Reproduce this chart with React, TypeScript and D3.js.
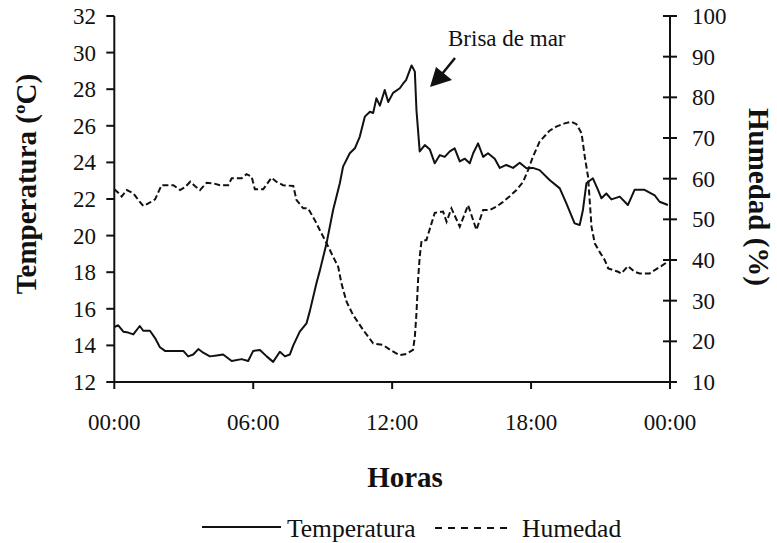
import React from 'react'
import { scaleLinear, line, curveLinear } from 'd3'

// temperature (ºC), hour of day
const tempHours = [0, 0.17, 0.39, 0.6, 0.82, 1.1, 1.25, 1.54, 1.76, 1.97, 2.19, 2.98, 3.19, 3.41, 3.63, 3.84, 4.13, 4.42, 4.7, 5.07, 5.5, 5.78, 6.0, 6.29, 6.58, 6.86, 7.15, 7.37, 7.58, 7.73, 8.01, 8.3, 8.45, 8.73, 8.88, 9.17, 9.45, 9.74, 9.88, 10.17, 10.39, 10.6, 10.82, 11.04, 11.18, 11.32, 11.47, 11.68, 11.83, 12.04, 12.33, 12.47, 12.6, 12.84, 12.98, 13.05, 13.19, 13.41, 13.63, 13.84, 14.06, 14.27, 14.49, 14.7, 14.92, 15.14, 15.35, 15.5, 15.71, 15.93, 16.14, 16.43, 16.65, 16.93, 17.22, 17.51, 17.8, 18.08, 18.37, 18.8, 19.24, 19.52, 19.88, 20.1, 20.24, 20.39, 20.67, 20.89, 21.04, 21.25, 21.47, 21.83, 22.18, 22.47, 22.9, 23.34, 23.55, 23.91]
const tempValues = [15.0, 15.1, 14.75, 14.7, 14.6, 15.06, 14.8, 14.8, 14.4, 13.9, 13.7, 13.7, 13.4, 13.5, 13.8, 13.6, 13.4, 13.45, 13.5, 13.15, 13.25, 13.15, 13.7, 13.75, 13.4, 13.1, 13.65, 13.4, 13.5, 14.0, 14.75, 15.2, 15.9, 17.4, 18.1, 19.6, 21.4, 22.86, 23.77, 24.5, 24.77, 25.4, 26.5, 26.77, 26.7, 27.5, 27.1, 27.96, 27.3, 27.8, 28.05, 28.3, 28.5, 29.3, 28.96, 26.86, 24.6, 24.95, 24.7, 23.95, 24.4, 24.3, 24.6, 24.77, 24.05, 24.2, 23.95, 24.5, 25.04, 24.3, 24.5, 24.2, 23.7, 23.86, 23.7, 23.98, 23.68, 23.7, 23.58, 23.04, 22.58, 21.77, 20.67, 20.58, 21.4, 22.86, 23.13, 22.5, 22.04, 22.3, 21.98, 22.13, 21.67, 22.5, 22.5, 22.2, 21.85, 21.67]

// relative humidity (%), hour of day
const humHours = [0, 0.17, 0.32, 0.54, 0.82, 1.04, 1.25, 1.47, 1.76, 2.04, 2.55, 2.84, 3.05, 3.28, 3.48, 3.7, 3.99, 4.27, 4.56, 4.92, 5.07, 5.5, 5.71, 5.93, 6.07, 6.43, 6.79, 7.0, 7.29, 7.73, 7.87, 8.16, 8.37, 8.66, 8.95, 9.17, 9.45, 9.67, 9.81, 10.03, 10.31, 10.75, 11.18, 11.61, 11.97, 12.33, 12.62, 12.9, 12.98, 13.05, 13.12, 13.19, 13.27, 13.48, 13.7, 13.84, 14.2, 14.35, 14.56, 14.92, 15.28, 15.64, 15.93, 16.21, 16.5, 16.79, 17.08, 17.37, 17.66, 17.87, 18.08, 18.37, 18.8, 19.09, 19.45, 19.74, 19.96, 20.18, 20.32, 20.46, 20.53, 20.61, 20.75, 20.96, 21.18, 21.33, 21.76, 21.9, 22.18, 22.47, 22.69, 23.12, 23.34, 23.62, 23.91]
const humValues = [57.4, 56.55, 55.6, 57.2, 56.4, 54.75, 53.3, 53.9, 54.9, 58.4, 58.4, 57.2, 57.9, 59.25, 58.2, 57.2, 59.0, 58.86, 58.4, 58.4, 60.1, 60.1, 61.1, 60.5, 57.4, 57.4, 60.25, 59.25, 58.4, 58.2, 54.75, 52.7, 52.7, 49.8, 46.5, 44.1, 40.8, 38.35, 34.25, 29.75, 26.5, 22.8, 19.5, 19.1, 17.7, 16.6, 16.9, 17.9, 21.1, 26.9, 35.1, 40.8, 44.7, 44.9, 49.0, 51.6, 51.9, 49.4, 52.7, 48.2, 53.5, 47.4, 52.3, 52.3, 53.1, 54.3, 55.7, 57.2, 59.25, 62.1, 65.4, 69.1, 71.8, 72.8, 73.6, 74.0, 73.4, 71.15, 65.4, 60.5, 54.75, 48.2, 44.1, 42.0, 40.0, 37.95, 37.1, 36.7, 38.5, 37.1, 36.7, 36.7, 37.5, 38.5, 39.6]

const tempTicks = [12, 14, 16, 18, 20, 22, 24, 26, 28, 30, 32]
const humTicks = [10, 20, 30, 40, 50, 60, 70, 80, 90, 100]
const hourTicks = [0, 6, 12, 18, 24]
const hourLabels = ['00:00', '06:00', '12:00', '18:00', '00:00']

const W = 777, H = 543
const left = 114.3, right = 670, top = 16, bottom = 382
const font = '"Liberation Serif", "Times New Roman", serif'

export default function App() {
  const x = scaleLinear().domain([0, 24]).range([left, right])
  const yT = scaleLinear().domain([12, 32]).range([bottom, top])
  const yH = scaleLinear().domain([10, 100]).range([bottom, top])

  const tPath = line<number>().x((_, i) => x(tempHours[i])).y(d => yT(d)).curve(curveLinear)(tempValues) || ''
  const hPath = line<number>().x((_, i) => x(humHours[i])).y(d => yH(d)).curve(curveLinear)(humValues) || ''

  return (
    <svg width={W} height={H} style={{ position: 'absolute', left: 0, top: 0, background: '#fff' }} fontFamily={font}>
      <rect width={W} height={H} fill="#fff" />
      {/* data */}
      <path d={hPath} fill="none" stroke="#111" strokeWidth={2} strokeDasharray="6,3" />
      <path d={tPath} fill="none" stroke="#111" strokeWidth={2} strokeLinejoin="round" />

      {/* left axis */}
      <line x1={left} x2={left} y1={top} y2={bottom} stroke="#111" strokeWidth={2} />
      {tempTicks.map(t => (
        <g key={'t' + t}>
          <line x1={left - 8} x2={left} y1={yT(t)} y2={yT(t)} stroke="#111" strokeWidth={2} />
          <text x={96} y={yT(t)} dy="0.35em" textAnchor="end" fontSize={23} fill="#111">{t}</text>
        </g>
      ))}

      {/* right axis */}
      <line x1={right} x2={right} y1={top} y2={bottom + 7} stroke="#111" strokeWidth={2} />
      {humTicks.map(t => (
        <g key={'h' + t}>
          <line x1={right - 7} x2={right + 7} y1={yH(t)} y2={yH(t)} stroke="#111" strokeWidth={2} />
          <text x={692} y={yH(t)} dy="0.35em" textAnchor="start" fontSize={23} fill="#111">{t}</text>
        </g>
      ))}

      {/* bottom axis */}
      <line x1={left} x2={right} y1={bottom} y2={bottom} stroke="#111" strokeWidth={2} />
      {hourTicks.map((h, i) => (
        <g key={'x' + i}>
          <line x1={x(h)} x2={x(h)} y1={bottom} y2={bottom + 7} stroke="#111" strokeWidth={2} />
          <text x={x(h)} y={430} textAnchor="middle" fontSize={23} fill="#111">{hourLabels[i]}</text>
        </g>
      ))}

      {/* titles */}
      <text transform="translate(36,184) rotate(-90)" textAnchor="middle" fontSize={29} fontWeight="bold" fill="#111">Temperatura (ºC)</text>
      <text transform="translate(749,197) rotate(90)" textAnchor="middle" fontSize={29} fontWeight="bold" fill="#111">Humedad (%)</text>
      <text x={405} y={487} textAnchor="middle" fontSize={29} fontWeight="bold" fill="#111">Horas</text>

      {/* annotation */}
      <text x={448} y={46} fontSize={23} fill="#111">Brisa de mar</text>
      <line x1={455} y1={58} x2={442} y2={74} stroke="#111" strokeWidth={2.5} />
      <path d="M430,87 L436,67 L452,80 Z" fill="#111" />

      {/* legend */}
      <line x1={202} x2={281} y1={527} y2={527} stroke="#111" strokeWidth={2} />
      <text x={287} y={537} fontSize={25.5} fill="#111">Temperatura</text>
      <line x1={435} x2={512} y1={528} y2={528} stroke="#111" strokeWidth={2} strokeDasharray="7,6" />
      <text x={522} y={537} fontSize={25.5} fill="#111">Humedad</text>
    </svg>
  )
}
